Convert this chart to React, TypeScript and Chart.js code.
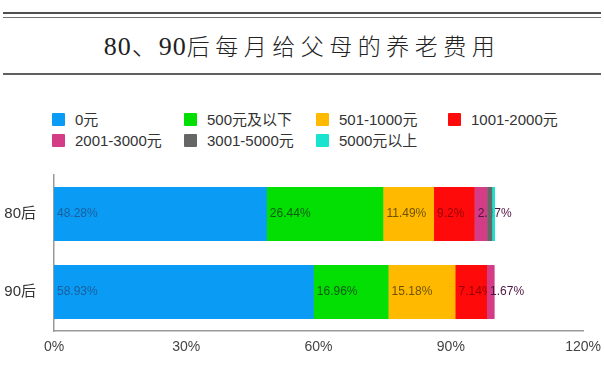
import React, { useEffect, useRef } from "react";
import { Chart, registerables } from "chart.js";

Chart.register(...registerables);

const titleParts = ["80、90", "后每月给父母的养老费用"];
const categories = ["80后", "90后"];
const seriesNames = ["0元", "500元及以下", "501-1000元", "1001-2000元", "2001-3000元", "3001-5000元", "5000元以上"];
const values80 = [48.28, 26.44, 11.49, 9.2, 2.87, 1.15, 0.57];
const values90 = [58.93, 16.96, 15.18, 7.14, 1.67, 0, 0];
const seriesColors = ["#0a9cf4", "#03de03", "#ffba00", "#fe0a0a", "#d43c86", "#666666", "#18e3cf"];
const labelColors = ["#1b5e9c", "#0f5a12", "#6e5200", "#9a0000", "#4e1440", "#333333", "#333333"];
const xTicks = [0, 30, 60, 90, 120];

const labelPlugin = {
  id: "segLabels",
  afterDatasetsDraw(chart: any) {
    const ctx = chart.ctx;
    chart.data.datasets.forEach((ds: any, i: number) => {
      const meta = chart.getDatasetMeta(i);
      meta.data.forEach((el: any) => el.draw(ctx));
      meta.data.forEach((el: any, j: number) => {
        const v = ds.data[j];
        if (!v || v < 1.5) return;
        const p = el.getProps(["x", "y", "base"], true);
        const left = Math.min(p.x, p.base);
        ctx.save();
        ctx.font = "12px 'Liberation Sans', Arial, sans-serif";
        ctx.fillStyle = labelColors[i];
        ctx.textBaseline = "middle";
        ctx.textAlign = "left";
        ctx.fillText(v + "%", left + 3, p.y);
        ctx.restore();
      });
    });
  },
};

export default function App() {
  const ref = useRef<HTMLCanvasElement | null>(null);

  useEffect(() => {
    if (!ref.current) return;
    const datasets = seriesNames.map((name, i) => ({
      label: name,
      data: [values80[i], values90[i]],
      backgroundColor: seriesColors[i],
      borderWidth: 0,
      barPercentage: 0.69,
      categoryPercentage: 1,
    }));
    const chart = new Chart(ref.current, {
      type: "bar",
      data: { labels: categories, datasets },
      options: {
        indexAxis: "y",
        animation: false,
        responsive: false,
        devicePixelRatio: 1,
        layout: { padding: { top: 1, right: 16, left: 0, bottom: 0 } },
        plugins: { legend: { display: false }, tooltip: { enabled: false } },
        scales: {
          x: {
            type: "linear",
            stacked: true,
            min: xTicks[0],
            max: xTicks[xTicks.length - 1],
            afterBuildTicks: (scale: any) => {
              scale.ticks = xTicks.map((v) => ({ value: v }));
            },
            afterFit: (scale: any) => {
              scale.height = 46;
            },
            grid: { display: false, drawTicks: false },
            border: { display: true, color: "#9a9a9a", width: 1.5 },
            ticks: {
              padding: 8,
              color: "#444",
              font: { size: 14, family: "'Liberation Sans', Arial, sans-serif" },
              callback: (v: any) => v + "%",
            },
          },
          y: {
            type: "category",
            stacked: true,
            afterFit: (scale: any) => {
              scale.width = 54;
            },
            grid: { display: false, drawTicks: false },
            border: { display: true, color: "#9a9a9a", width: 1.5 },
            ticks: {
              padding: 18,
              color: "#333",
              font: { size: 15, family: "'Liberation Sans', 'Noto Sans CJK SC', sans-serif" },
            },
          },
        },
      },
      plugins: [labelPlugin],
    } as any);
    return () => chart.destroy();
  }, []);

  const colLeft = [52, 184, 316, 448];
  const legendItems = seriesNames.map((name, i) => ({
    name,
    color: seriesColors[i],
    left: colLeft[i % 4],
    top: i < 4 ? 113 : 134,
  }));

  return (
    <div
      style={{
        position: "fixed",
        left: 0,
        top: 0,
        width: 604,
        height: 377,
        background: "#fff",
        overflow: "hidden",
      }}
    >
      <div style={{ position: "absolute", left: 3, width: 598, top: 12, height: 2, background: "#505050" }} />
      <div style={{ position: "absolute", left: 3, width: 598, top: 16.5, height: 1.5, background: "#707070" }} />
      <div
        style={{
          position: "absolute",
          left: 0,
          width: 604,
          top: 30,
          height: 34,
          lineHeight: "34px",
          textAlign: "center",
          color: "#222",
          fontFamily: "'Liberation Serif', 'Noto Sans CJK SC', serif",
          fontWeight: 300,
          whiteSpace: "nowrap",
        }}
      >
        <span style={{ fontSize: 26, letterSpacing: 1 }}>{titleParts[0]}</span>
        <span style={{ fontSize: 23, letterSpacing: 5.5 }}>{titleParts[1]}</span>
      </div>
      <div style={{ position: "absolute", left: 3, width: 598, top: 73, height: 2, background: "#606060" }} />
      {legendItems.map((it) => (
        <div key={it.name}>
          <div
            style={{
              position: "absolute",
              left: it.left,
              top: it.top,
              width: 13,
              height: 13,
              background: it.color,
              borderRadius: 1,
            }}
          />
          <div
            style={{
              position: "absolute",
              left: it.left + 23,
              top: it.top - 4,
              height: 21,
              lineHeight: "21px",
              fontSize: 15,
              color: "#333",
              whiteSpace: "nowrap",
              fontFamily: "'Liberation Sans', 'Noto Sans CJK SC', sans-serif",
            }}
          >
            {it.name}
          </div>
        </div>
      ))}
      <canvas
        ref={ref}
        width={609}
        height={229}
        style={{ position: "absolute", left: 0, top: 148, width: 609, height: 229 }}
      />
    </div>
  );
}
